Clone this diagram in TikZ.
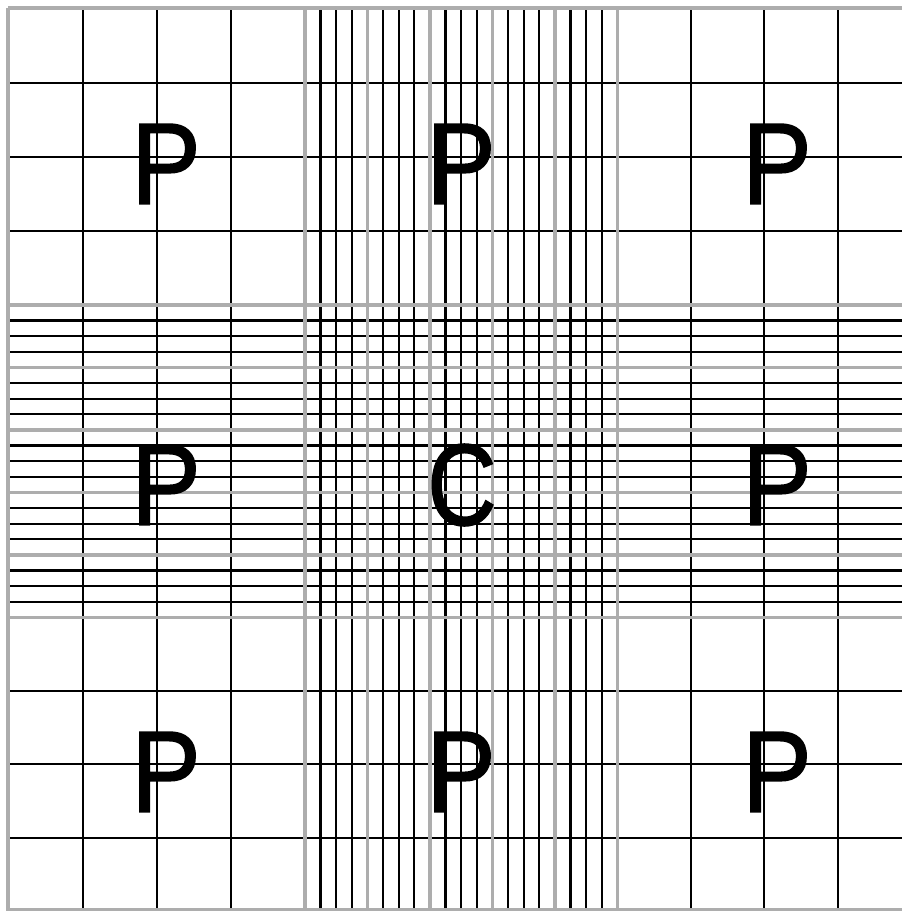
\documentclass[tikz,border=0pt]{standalone}
\usepackage{fontspec}
\setmainfont{Liberation Sans}
\newfontfamily\letrafont{Liberation Sans}[FakeBold=1.2]
\begin{document}
\begin{tikzpicture}[x=0.01cm,y=-0.01cm,
    fina/.style={black,line width=0.65pt},
    triple/.style={black!32,line width=0.35pt},
    letra/.style={font=\letrafont\fontsize{33}{40}\selectfont,inner sep=0pt,xscale=0.9}]
  \useasboundingbox (0,0) rectangle (902,911);
  \clip (0,0) rectangle (902,911);
  % lineas de los cuadros grandes
  \foreach \p in {83,157,231,691,764,838}{
    \draw[fina] (\p,8) -- (\p,911);
    \draw[fina] (8,\p) -- (911,\p);
  }
  % cuadro central: 5 grupos de 4
  \foreach \g in {0,...,4}{
    \foreach \k in {1,2,3}{
      \draw[fina] ({305+62.5*\g+15.6*\k},8) -- ({305+62.5*\g+15.6*\k},911);
      \draw[fina] (8,{305+62.5*\g+15.6*\k}) -- (911,{305+62.5*\g+15.6*\k});
    }
  }
  % lineas triples
  \foreach \p in {8,305,367.5,430,492.5,555,617.5,910}{
    \foreach \d in {-1.3,0,1.3}{
      \draw[triple] ({\p+\d},8) -- ({\p+\d},911);
      \draw[triple] (8,{\p+\d}) -- (911,{\p+\d});
    }
  }
  \foreach \x/\y/\t/\n in {166/164/P/p1,461/164/P/p2,777/164/P/p3,
                           166/485/P/p4,777/485/P/p6,
                           166/772/P/p7,461/772/P/p8,777/772/P/p9}{
    \node[letra] (\n) at (\x,\y) {\t};
  }
  \node[letra,xscale=0.92] (c) at (462,485) {C};
\end{tikzpicture}
\end{document}
